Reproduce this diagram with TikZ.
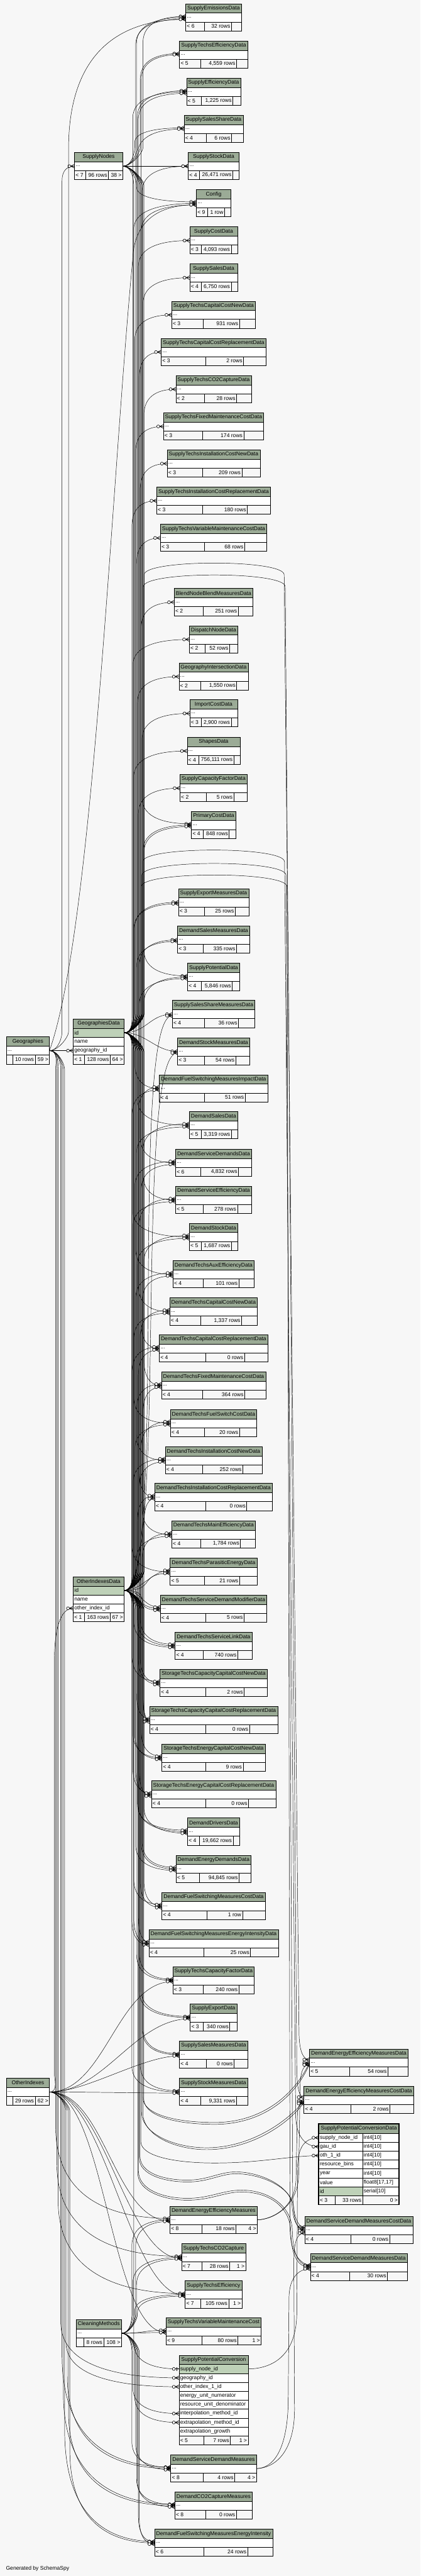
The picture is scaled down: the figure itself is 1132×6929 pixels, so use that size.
\documentclass[tikz,border=0pt]{standalone}
\usepackage{fontspec}
\setmainfont{Liberation Sans}
\usetikzlibrary{calc}

\definecolor{headcol}{HTML}{9BAB96}
\definecolor{pkcol}{HTML}{BED1B8}
\definecolor{footcol}{HTML}{F7F7F7}
\definecolor{bgcol}{HTML}{F7F7F7}

\newdimen\tbT
\newdimen\tbL
\newdimen\tbM
\newdimen\tbR
\newcommand\tbfont{\fontsize{14.5}{16}\selectfont}
% width of a text in the table font, measured outside the picture state
\newcommand{\tbwidth}[2]{\settowidth#1{\pgfinterruptpicture\tbfont #2\endpgfinterruptpicture}}

% natural widths of the three footer cells
\newcommand{\tbnat}[3]{%
  \tbwidth\tbL{#1}\tbwidth\tbM{#2}\tbwidth\tbR{#3}%
  \pgfmathsetmacro\tbnl{ifthenelse(\the\tbL>0,\the\tbL+10,17)}%
  \pgfmathsetmacro\tbnm{\the\tbM+10}%
  \pgfmathsetmacro\tbnr{ifthenelse(\the\tbR>0,\the\tbR+10,17)}}

% footer row: parents | rows | children
\newcommand{\tbfoot}[4]{%
  \pgfmathsetmacro\tbE{max(\tbxr-\tbxl-\tbnl-\tbnm-\tbnr,0)}%
  \pgfmathsetmacro\tbxa{\tbxl+\tbnl+0.49*\tbE}%
  \pgfmathsetmacro\tbxb{\tbxa+\tbnm+0.27*\tbE}%
  \draw[tbline, fill=footcol] (\tbxl,#1) rectangle (\tbxr,#1+24);
  \draw[tbline] (\tbxa,#1) -- (\tbxa,#1+24) (\tbxb,#1) -- (\tbxb,#1+24);
  \node[tbtext, anchor=west] at (\tbxl+2,#1+12) {#2};
  \node[tbtext, anchor=east] at (\tbxb-2,#1+12) {#3};
  \node[tbtext, anchor=east] at (\tbxr-2,#1+12) {#4};}

% collapsed table: centre x, top, name, parents, rows, children
\newcommand{\tbl}[6]{%
  \tbnat{#4}{#5}{#6}\tbwidth\tbT{#3}%
  \pgfmathsetmacro\tbW{max(\the\tbT+9,\tbnl+\tbnm+\tbnr)}%
  \pgfmathsetmacro\tbxl{#1-\tbW/2}\pgfmathsetmacro\tbxr{#1+\tbW/2}%
  \draw[tbline, fill=headcol] (\tbxl,#2) rectangle (\tbxr,#2+25);
  \node[tbtext] at (#1,#2+12.5) {#3};
  \draw[tbline, fill=white] (\tbxl,#2+25) rectangle (\tbxr,#2+49);
  \node[rowbox, minimum width=\tbW] (#3) at (\tbxl,#2+25) {};
  \node[tbtext, anchor=west] at (\tbxl+2,#2+37) {...};
  \tbfoot{#2+49}{#4}{#5}{#6}}

% table with its columns: centre x, top, width, name, number of rows, rows, parents, rows, children
\newcommand{\tblx}[9]{%
  \tbnat{#7}{#8}{#9}%
  \pgfmathsetmacro\tbxl{#1-#3/2}\pgfmathsetmacro\tbxr{#1+#3/2}%
  \draw[tbline, fill=headcol] (\tbxl,#2) rectangle (\tbxr,#2+25);
  \node[tbtext] at (#1,#2+12.5) {#4};
  \foreach \key/\txt/\fc [count=\rk] in {#6} {%
    \pgfmathsetmacro\tby{#2+1+24*\rk}%
    \draw[tbline, fill=\fc] (\tbxl,\tby) rectangle (\tbxr,\tby+24);
    \node[rowbox, minimum width=#3] (#4-\key) at (\tbxl,\tby) {};
    \node[tbtext, anchor=west] at (\tbxl+2,\tby+12) {\txt};
  }
  \tbfoot{#2+25+24*#5}{#7}{#8}{#9}}

% zero-or-many end (crow's foot with ring) at fkB
\newcommand{\fkmark}{%
  \draw[fkfoot] ($(fkB)+(-10,0)$) -- ($(fkB)+(0,-5)$) ($(fkB)+(-10,0)$) -- ($(fkB)+(0,5)$) ($(fkB)+(-10,0)$) -- (fkB);
  \draw[fkfoot, fill=white] ($(fkB)+(-14,0)$) circle[radius=4pt];}
% zero-or-one end (ring and bar)
\newcommand{\fkmarkone}{%
  \draw[fkfoot] ($(fkB)+(-6,-5)$) -- ($(fkB)+(-6,5)$) ($(fkB)+(-10,0)$) -- (fkB);
  \draw[fkfoot, fill=white] ($(fkB)+(-14,0)$) circle[radius=4pt];}
\newcommand{\fkend}{\fkmark}

% connector through a vertical trunk: direction (1 down, -1 up), parent, child, trunk, offset, lead
\newcommand{\fkedge}[6]{%
  \coordinate (fkB) at ($(#3)+(0,#5)$);
  \pgfmathsetmacro\fkc{-12*(#1)}\pgfmathsetmacro\fkd{50*(#1)}%
  \pgfmathsetmacro\fke{-(#6)*(#1)}\pgfmathsetmacro\fkf{0.8*(#6)*(#1)}%
  \draw[fk] (#2) .. controls +(25,0) and +(0,\fkc) .. ($(#2 -| #4)+(0,\fkd)$)
    -- ($(fkB -| #4)+(0,\fke)$) .. controls +(0,\fkf) and ($(fkB -| #4)!0.5!(fkB)$) .. (fkB);
  \fkend}
\newcommand{\fkup}[4]{\fkedge{-1}{#1}{#2}{#3}{#4}{70}}
\newcommand{\fkdn}[4]{\fkedge{1}{#1}{#2}{#3}{#4}{70}}
% short S-shaped connector
\newcommand{\fkS}[4]{%
  \coordinate (fkB) at ($(#2)+(0,#3)$);
  \draw[fk] (#1) .. controls +(#4,0) and +(-#4,0) .. (fkB);
  \fkend}

\begin{document}
\begin{tikzpicture}[
  x=1pt, y=-1pt,
  tbline/.style={draw=black, line width=1pt},
  tbtext/.style={font=\tbfont, inner sep=1pt},
  rowbox/.style={inner sep=0, outer sep=0, minimum height=24, anchor=north west},
  fk/.style={draw=black, line width=0.8pt},
  fkfoot/.style={draw=black, line width=1.1pt},
]
\useasboundingbox (0,0) rectangle (1132,6929);
\fill[bgcol] (0,0) rectangle (1132,6929);

% --- middle column ---
\foreach \ty/\tn/\tp/\tc/\tk in {
  10/SupplyEmissionsData/< 6/{32 rows}/{},
  110/SupplyTechsEfficiencyData/< 5/{4,559 rows}/{},
  210/SupplyEfficiencyData/< 5/{1,225 rows}/{},
  310/SupplySalesShareData/< 4/{6 rows}/{},
  410/SupplyStockData/< 4/{26,471 rows}/{},
  510/Config/< 9/{1 row}/{},
  610/SupplyCostData/< 3/{4,093 rows}/{},
  710/SupplySalesData/< 4/{6,750 rows}/{},
  810/SupplyTechsCapitalCostNewData/< 3/{931 rows}/{},
  910/SupplyTechsCapitalCostReplacementData/< 3/{2 rows}/{},
  1010/SupplyTechsCO2CaptureData/< 2/{28 rows}/{},
  1110/SupplyTechsFixedMaintenanceCostData/< 3/{174 rows}/{},
  1210/SupplyTechsInstallationCostNewData/< 3/{209 rows}/{},
  1310/SupplyTechsInstallationCostReplacementData/< 3/{180 rows}/{},
  1410/SupplyTechsVariableMaintenanceCostData/< 3/{68 rows}/{},
  1583/BlendNodeBlendMeasuresData/< 2/{251 rows}/{},
  1683/DispatchNodeData/< 2/{52 rows}/{},
  1783/GeographyIntersectionData/< 2/{1,550 rows}/{},
  1882/ImportCostData/< 3/{2,900 rows}/{},
  1983/ShapesData/< 4/{756,111 rows}/{},
  2083/SupplyCapacityFactorData/< 2/{5 rows}/{},
  2182/PrimaryCostData/< 4/{848 rows}/{},
  2390/SupplyExportMeasuresData/< 3/{25 rows}/{},
  2491/DemandSalesMeasuresData/< 3/{335 rows}/{},
  2591/SupplyPotentialData/< 4/{5,846 rows}/{},
  2691/SupplySalesShareMeasuresData/< 4/{36 rows}/{},
  2791/DemandStockMeasuresData/< 3/{54 rows}/{},
  2891/DemandFuelSwitchingMeasuresImpactData/< 4/{51 rows}/{},
  2990/DemandSalesData/< 5/{3,319 rows}/{},
  3091/DemandServiceDemandsData/< 6/{4,832 rows}/{},
  3191/DemandServiceEfficiencyData/< 5/{278 rows}/{},
  3290/DemandStockData/< 5/{1,687 rows}/{},
  3391/DemandTechsAuxEfficiencyData/< 4/{101 rows}/{},
  3491/DemandTechsCapitalCostNewData/< 4/{1,337 rows}/{},
  3590/DemandTechsCapitalCostReplacementData/< 4/{0 rows}/{},
  3690/DemandTechsFixedMaintenanceCostData/< 4/{364 rows}/{},
  3791/DemandTechsFuelSwitchCostData/< 4/{20 rows}/{},
  3891/DemandTechsInstallationCostNewData/< 4/{252 rows}/{},
  3990/DemandTechsInstallationCostReplacementData/< 4/{0 rows}/{},
  4091/DemandTechsMainEfficiencyData/< 4/{1,784 rows}/{},
  4191/DemandTechsParasiticEnergyData/< 5/{21 rows}/{},
  4290/DemandTechsServiceDemandModifierData/< 4/{5 rows}/{},
  4390/DemandTechsServiceLinkData/< 4/{740 rows}/{},
  4490/StorageTechsCapacityCapitalCostNewData/< 4/{2 rows}/{},
  4590/StorageTechsCapacityCapitalCostReplacementData/< 4/{0 rows}/{},
  4691/StorageTechsEnergyCapitalCostNewData/< 4/{9 rows}/{},
  4790/StorageTechsEnergyCapitalCostReplacementData/< 4/{0 rows}/{},
  4890/DemandDriversData/< 4/{19,662 rows}/{},
  4990/DemandEnergyDemandsData/< 5/{94,845 rows}/{},
  5090/DemandFuelSwitchingMeasuresCostData/< 4/{1 row}/{},
  5190/DemandFuelSwitchingMeasuresEnergyIntensityData/< 4/{25 rows}/{},
  5290/SupplyTechsCapacityFactorData/< 3/{240 rows}/{},
  5390/SupplyExportData/< 3/{340 rows}/{},
  5490/SupplySalesMeasuresData/< 4/{0 rows}/{},
  5590/SupplyStockMeasuresData/< 4/{9,331 rows}/{},
  5934/DemandEnergyEfficiencyMeasures/< 8/{18 rows}/{4 >},
  6035/SupplyTechsCO2Capture/< 7/{28 rows}/{1 >},
  6135/SupplyTechsEfficiency/< 7/{105 rows}/{1 >},
  6234/SupplyTechsVariableMaintenanceCost/< 9/{80 rows}/{1 >},
  6603/DemandServiceDemandMeasures/< 8/{4 rows}/{4 >},
  6703/DemandCO2CaptureMeasures/< 8/{0 rows}/{},
  6803/DemandFuelSwitchingMeasuresEnergyIntensity/< 6/{24 rows}/{}}
  {\tbl{575}{\ty}{\tn}{\tp}{\tc}{\tk}}

\tblx{575}{6335}{186}{SupplyPotentialConversion}{8}{supplynode/supply\_node\_id/pkcol,
  geography/geography\_id/white, otherindex/other\_index\_1\_id/white,
  numerator/energy\_unit\_numerator/white, denominator/resource\_unit\_denominator/white,
  interpolation/interpolation\_method\_id/white, extrapolation/extrapolation\_method\_id/white,
  growth/extrapolation\_growth/white}{< 5}{7 rows}{1 >}

% --- parent tables ---
\tbl{265.5}{410}{SupplyNodes}{< 7}{96 rows}{38 >}
\tblx{265.5}{2741}{137}{GeographiesData}{3}{id/id/pkcol, name/name/white,
  geography/geography\_id/white}{< 1}{128 rows}{64 >}
\tblx{265.5}{4241}{137}{OtherIndexesData}{3}{id/id/pkcol, name/name/white,
  otherindex/other\_index\_id/white}{< 1}{163 rows}{67 >}
\tbl{266}{6239}{CleaningMethods}{}{8 rows}{108 >}
\tbl{75}{2789}{Geographies}{}{10 rows}{59 >}
\tbl{75}{5590}{OtherIndexes}{}{29 rows}{62 >}

% --- right column ---
\tbl{966}{5511}{DemandEnergyEfficiencyMeasuresData}{< 5}{54 rows}{}
\tbl{966}{5612}{DemandEnergyEfficiencyMeasuresCostData}{< 4}{2 rows}{}
\tbl{966}{5962}{DemandServiceDemandMeasuresCostData}{< 4}{0 rows}{}
\tbl{966}{6061}{DemandServiceDemandMeasuresData}{< 4}{30 rows}{}

% SupplyPotentialConversionData (the table in focus)
\draw[tbline, fill=headcol] (858,5713) rectangle (1074,5738);
\node[tbtext] at (966,5725.5) {SupplyPotentialConversionData};
\foreach \key/\txt/\typ/\fc [count=\rk] in {supplynode/supply\_node\_id/int4[10]/white,
  gau/gau\_id/int4[10]/white, oth/oth\_1\_id/int4[10]/white, bins/resource\_bins/int4[10]/white,
  year/year/int4[10]/white, value/value/{float8[17,17]}/white, id/id/serial[10]/pkcol} {
  \pgfmathsetmacro\tby{5714+24*\rk}
  \draw[tbline, fill=\fc] (858,\tby) rectangle (976,\tby+24);
  \draw[tbline, fill=white] (976,\tby) rectangle (1074,\tby+24);
  \node[rowbox, minimum width=118] (SupplyPotentialConversionData-\key) at (858,\tby) {};
  \node[tbtext, anchor=west] at (860,\tby+12) {\txt};
  \node[tbtext, anchor=west] at (978,\tby+12) {\typ};
}
\draw[tbline, fill=footcol] (858,5906) rectangle (1074,5930);
\draw[tbline] (902,5906) -- (902,5930) (976,5906) -- (976,5930);
\node[tbtext, anchor=west] at (860,5918) {< 3};
\node[tbtext, anchor=east] at (974,5918) {33 rows};
\node[tbtext, anchor=east] at (1072,5918) {0 >};
\draw[line width=2.5pt] (858,5713) rectangle (1074,5930);

\node[tbtext, anchor=west] (credit) at (15,6909) {Generated by SchemaSpy};

% --- trunks the connectors run along ---
\foreach \i in {0,...,13} {
  \coordinate (t\i) at ({355+2.5*\i},0);
  \coordinate (l\i) at ({146+3.5*\i},0);
}

% SupplyNodes
\fkup{SupplyNodes.east}{SupplyEmissionsData.west}{t12}{-3}
\fkup{SupplyNodes.east}{SupplyTechsEfficiencyData.west}{t9}{-3}
\fkup{SupplyNodes.east}{SupplyEfficiencyData.west}{t6}{-3}
\fkedge{-1}{SupplyNodes.east}{SupplySalesShareData.west}{t3}{-3}{40}
\fkS{SupplyNodes.east}{SupplyStockData.west}{0}{60}
\fkedge{1}{SupplyNodes.east}{Config.west}{t5}{-4}{40}
\foreach \c/\t in {PrimaryCostData/11, SupplyPotentialData/13, SupplyTechsCapacityFactorData/8,
  SupplyExportData/10, SupplySalesMeasuresData/12, SupplyStockMeasuresData/9}
  {\fkdn{SupplyNodes.east}{\c.west}{t\t}{-3}}
{\let\fkend\fkmarkone \fkdn{SupplyNodes.east}{SupplyPotentialConversion-supplynode.west}{t2}{0}}

% GeographiesData (gau_id)
\foreach \c [count=\i] in {SupplyEmissionsData, SupplyTechsEfficiencyData, SupplyEfficiencyData,
  SupplySalesShareData, SupplyStockData, Config, SupplyCostData, SupplySalesData,
  SupplyTechsCapitalCostNewData, SupplyTechsCapitalCostReplacementData, SupplyTechsCO2CaptureData,
  SupplyTechsFixedMaintenanceCostData, SupplyTechsInstallationCostNewData,
  SupplyTechsInstallationCostReplacementData, SupplyTechsVariableMaintenanceCostData,
  BlendNodeBlendMeasuresData, DispatchNodeData, GeographyIntersectionData, ImportCostData,
  ShapesData, SupplyCapacityFactorData, PrimaryCostData, SupplyExportMeasuresData,
  DemandSalesMeasuresData, SupplyPotentialData}
  {\pgfmathtruncatemacro\t{mod(\i*5,14)}\fkup{GeographiesData-id.east}{\c.west}{t\t}{0}}
\fkS{GeographiesData-id.east}{SupplySalesShareMeasuresData.west}{0}{60}
\fkS{GeographiesData-id.east}{DemandStockMeasuresData.west}{0}{60}
\foreach \c [count=\i] in {DemandFuelSwitchingMeasuresImpactData, DemandSalesData,
  DemandServiceDemandsData, DemandServiceEfficiencyData, DemandStockData,
  DemandTechsAuxEfficiencyData, DemandTechsCapitalCostNewData, DemandTechsCapitalCostReplacementData,
  DemandTechsFixedMaintenanceCostData, DemandTechsFuelSwitchCostData,
  DemandTechsInstallationCostNewData, DemandTechsInstallationCostReplacementData,
  DemandTechsMainEfficiencyData, DemandTechsParasiticEnergyData, DemandTechsServiceDemandModifierData,
  DemandTechsServiceLinkData, StorageTechsCapacityCapitalCostNewData,
  StorageTechsCapacityCapitalCostReplacementData, StorageTechsEnergyCapitalCostNewData,
  StorageTechsEnergyCapitalCostReplacementData, DemandDriversData, DemandEnergyDemandsData,
  DemandFuelSwitchingMeasuresCostData, DemandFuelSwitchingMeasuresEnergyIntensityData,
  SupplyTechsCapacityFactorData, SupplyExportData, SupplySalesMeasuresData, SupplyStockMeasuresData}
  {\pgfmathtruncatemacro\t{mod(\i*3,14)}\fkdn{GeographiesData-id.east}{\c.west}{t\t}{0}}

% OtherIndexesData (oth_1_id, oth_2_id)
\foreach \c [count=\i] in {SupplyEmissionsData, SupplyEfficiencyData, Config, PrimaryCostData,
  SupplyExportMeasuresData, DemandSalesMeasuresData, SupplyPotentialData}
  {\pgfmathtruncatemacro\t{mod(\i*3+1,14)}\fkup{OtherIndexesData-id.east}{\c.west}{t\t}{4}}
\fkS{OtherIndexesData-id.east}{SupplySalesShareMeasuresData.west}{4}{120}
\fkS{OtherIndexesData-id.east}{DemandStockMeasuresData.west}{4}{120}
\foreach \c [count=\i] in {DemandFuelSwitchingMeasuresImpactData, DemandSalesData,
  DemandServiceDemandsData, DemandServiceEfficiencyData, DemandStockData,
  DemandTechsAuxEfficiencyData, DemandTechsCapitalCostNewData, DemandTechsCapitalCostReplacementData,
  DemandTechsFixedMaintenanceCostData, DemandTechsFuelSwitchCostData,
  DemandTechsInstallationCostNewData, DemandTechsInstallationCostReplacementData,
  DemandTechsMainEfficiencyData}
  {\pgfmathtruncatemacro\t{mod(\i*5+2,14)}\pgfmathtruncatemacro\s{mod(\i*5+9,14)}%
   \fkup{OtherIndexesData-id.east}{\c.west}{t\t}{-4}\fkup{OtherIndexesData-id.east}{\c.west}{t\s}{4}}
\foreach \c in {DemandTechsParasiticEnergyData, DemandTechsServiceDemandModifierData}
  {\fkS{OtherIndexesData-id.east}{\c.west}{-4}{50}\fkS{OtherIndexesData-id.east}{\c.west}{4}{90}}
\foreach \c [count=\i] in {DemandTechsServiceLinkData, StorageTechsCapacityCapitalCostNewData,
  StorageTechsCapacityCapitalCostReplacementData, StorageTechsEnergyCapitalCostNewData,
  StorageTechsEnergyCapitalCostReplacementData, DemandDriversData, DemandEnergyDemandsData,
  DemandFuelSwitchingMeasuresCostData, DemandFuelSwitchingMeasuresEnergyIntensityData}
  {\pgfmathtruncatemacro\t{mod(\i*5+4,14)}\pgfmathtruncatemacro\s{mod(\i*5+11,14)}%
   \fkdn{OtherIndexesData-id.east}{\c.west}{t\t}{-4}\fkdn{OtherIndexesData-id.east}{\c.west}{t\s}{4}}

% Geographies (geography_id)
\fkS{Geographies.east}{GeographiesData-geography.west}{0}{25}
\fkedge{-1}{Geographies.east}{SupplyNodes.west}{l6}{0}{40}
\fkedge{-1}{Geographies.east}{SupplyEmissionsData.west}{l11}{5}{350}
\coordinate (fkB) at ($(Config.west)+(0,4)$);
\draw[fk] (Geographies.east) .. controls (250,2500) and (300,1300) .. (357,700)
  .. controls (360,600) and (420,550) .. (fkB);
\fkmark
\foreach \c/\l/\o/\d in {DemandEnergyEfficiencyMeasures/1/-4/250, SupplyTechsCO2Capture/2/-3/250,
  SupplyTechsEfficiency/3/-3/250, DemandServiceDemandMeasures/6/-4/300,
  DemandCO2CaptureMeasures/7/-4/300, DemandFuelSwitchingMeasuresEnergyIntensity/8/-4/300}
  {\fkedge{1}{Geographies.east}{\c.west}{l\l}{\o}{\d}}
\fkedge{1}{Geographies.east}{SupplyPotentialConversion-geography.west}{l5}{0}{150}

% OtherIndexes (other_index_id)
\fkedge{-1}{OtherIndexes.east}{OtherIndexesData-otherindex.west}{l0}{0}{150}
\foreach \c/\h in {SupplySalesMeasuresData/100, SupplyStockMeasuresData/100,
  SupplyTechsCapacityFactorData/150, SupplyExportData/150, DemandEnergyEfficiencyMeasures/150,
  SupplyTechsCO2Capture/150, SupplyTechsEfficiency/150, SupplyTechsVariableMaintenanceCost/150}
  {\fkS{OtherIndexes.east}{\c.west}{3}{\h}}
\fkedge{1}{OtherIndexes.east}{SupplyPotentialConversion-otherindex.west}{l9}{0}{120}
\foreach \c/\l in {DemandServiceDemandMeasures/10, DemandCO2CaptureMeasures/11,
  DemandFuelSwitchingMeasuresEnergyIntensity/12}
  {\fkedge{1}{OtherIndexes.east}{\c.west}{l\l}{0}{250}}

% CleaningMethods (interpolation / extrapolation)
\fkS{CleaningMethods.east}{SupplyTechsVariableMaintenanceCost.west}{-3}{60}
\fkS{CleaningMethods.east}{SupplyTechsVariableMaintenanceCost.west}{3}{90}
\foreach \c/\t/\s in {DemandEnergyEfficiencyMeasures/0/4, SupplyTechsCO2Capture/1/5}
  {\fkup{CleaningMethods.east}{\c.west}{t\t}{0}\fkup{CleaningMethods.east}{\c.west}{t\s}{4}}
\fkedge{-1}{CleaningMethods.east}{SupplyTechsEfficiency.west}{t3}{0}{45}
\fkedge{-1}{CleaningMethods.east}{SupplyTechsEfficiency.west}{t6}{4}{45}
\fkdn{CleaningMethods.east}{SupplyPotentialConversion-interpolation.west}{t1}{0}
\fkdn{CleaningMethods.east}{SupplyPotentialConversion-extrapolation.west}{t3}{0}
\foreach \c/\t/\s in {DemandServiceDemandMeasures/0/4, DemandCO2CaptureMeasures/5/6,
  DemandFuelSwitchingMeasuresEnergyIntensity/7/8}
  {\fkdn{CleaningMethods.east}{\c.west}{t\t}{-3}\fkdn{CleaningMethods.east}{\c.west}{t\s}{3}}

% GeographiesData over the top to the right-hand tables
\coordinate (fkB) at ($(DemandEnergyEfficiencyMeasuresData.west)+(0,-8)$);
\draw[fk] (GeographiesData-id.east) .. controls +(25,0) and +(0,12) .. (388,2728) -- (388,1546)
  .. controls (388,1504) and (765,1504) .. (765,1546) -- (805,5470) .. controls (806,5515) and (815,5540) .. (fkB);
\fkmark
\coordinate (fkB) at ($(DemandEnergyEfficiencyMeasuresCostData.west)+(0,-8)$);
\draw[fk] (GeographiesData-id.east) .. controls +(25,0) and +(0,12) .. (386,2728) -- (386,1578)
  .. controls (386,1536) and (768,1536) .. (768,1578) -- (799,5570) .. controls (800,5615) and (805,5641) .. (fkB);
\fkmark
\coordinate (fkB) at (SupplyPotentialConversionData-gau.west);
\draw[fk] (GeographiesData-id.east) .. controls +(25,0) and +(0,12) .. (384,2728) -- (384,2318)
  .. controls (384,2276) and (766,2276) .. (766,2318) -- (796,5690) .. controls (797,5745) and (820,5774) .. (fkB);
\fkmark
\coordinate (fkB) at ($(DemandServiceDemandMeasuresCostData.west)+(0,-8)$);
\draw[fk] (GeographiesData-id.east) .. controls +(25,0) and +(0,12) .. (382,2728) -- (382,2354)
  .. controls (382,2312) and (770,2312) .. (770,2354) -- (788,5900) .. controls (789,5960) and (800,5990) .. (fkB);
\fkmark
\coordinate (fkB) at ($(DemandServiceDemandMeasuresData.west)+(0,-5)$);
\draw[fk] (GeographiesData-id.east) .. controls +(25,0) and +(0,12) .. (380,2728) -- (380,2385)
  .. controls (380,2343) and (773,2343) .. (773,2385) -- (781,6000) .. controls (782,6060) and (810,6092) .. (fkB);
\fkmark

% OtherIndexesData dipping under into the right-hand tables
\coordinate (fkB) at (DemandEnergyEfficiencyMeasuresData.west);
\draw[fk] (OtherIndexesData-id.east) .. controls +(25,0) and +(0,-12) .. (384,4327) -- (384,5640)
  .. controls (384,5690) and (480,5709) .. (578,5709) .. controls (700,5709) and (790,5640) .. (fkB);
\fkmark
\coordinate (fkB) at ($(DemandEnergyEfficiencyMeasuresData.west)+(0,4)$);
\draw[fk] (OtherIndexesData-id.east) .. controls +(25,0) and +(0,-12) .. (387,4327) -- (387,5645)
  .. controls (387,5695) and (483,5714) .. (578,5714) .. controls (703,5714) and (793,5645) .. (fkB);
\fkmark
\coordinate (fkB) at ($(DemandEnergyEfficiencyMeasuresCostData.west)+(0,2)$);
\draw[fk] (OtherIndexesData-id.east) .. controls +(25,0) and +(0,-12) .. (381,4327) -- (381,5680)
  .. controls (381,5740) and (470,5777) .. (556,5777) .. controls (680,5777) and (780,5700) .. (fkB);
\fkmark
\coordinate (fkB) at ($(DemandEnergyEfficiencyMeasuresCostData.west)+(0,6)$);
\draw[fk] (OtherIndexesData-id.east) .. controls +(25,0) and +(0,-12) .. (385,4327) -- (385,5685)
  .. controls (385,5745) and (474,5782) .. (556,5782) .. controls (684,5782) and (784,5705) .. (fkB);
\fkmark
\coordinate (fkB) at (SupplyPotentialConversionData-oth.west);
\draw[fk] (OtherIndexesData-id.east) .. controls +(25,0) and +(0,-12) .. (379,4327) -- (379,5760)
  .. controls (379,5800) and (470,5818) .. (578,5818) .. controls (700,5818) and (780,5799) .. (fkB);
\fkmark
\coordinate (fkB) at ($(DemandServiceDemandMeasuresCostData.west)+(0,-3)$);
\draw[fk] (OtherIndexesData-id.east) .. controls +(25,0) and +(0,-12) .. (377,4327) -- (377,5800)
  .. controls (377,5845) and (440,5864) .. (505,5864) .. controls (560,5864) and (590,5842) .. (635,5842)
  .. controls (700,5842) and (782,5880) .. (786,5930) .. controls (789,5975) and (800,5995) .. (fkB);
\fkmark
\coordinate (fkB) at ($(DemandServiceDemandMeasuresCostData.west)+(0,1)$);
\draw[fk] (OtherIndexesData-id.east) .. controls +(25,0) and +(0,-12) .. (375,4327) -- (375,5805)
  .. controls (375,5850) and (443,5869) .. (505,5869) .. controls (563,5869) and (593,5847) .. (635,5847)
  .. controls (705,5847) and (786,5885) .. (790,5935) .. controls (792,5980) and (803,5999) .. (fkB);
\fkmark
\coordinate (fkB) at ($(DemandServiceDemandMeasuresData.west)+(0,-3)$);
\draw[fk] (OtherIndexesData-id.east) .. controls +(25,0) and +(0,-12) .. (373,4327) -- (373,5840)
  .. controls (373,5890) and (440,5913) .. (505,5913) .. controls (565,5913) and (600,5891) .. (650,5891)
  .. controls (720,5891) and (785,5930) .. (787,6000) .. controls (789,6080) and (812,6094) .. (fkB);
\fkmark
\coordinate (fkB) at ($(DemandServiceDemandMeasuresData.west)+(0,1)$);
\draw[fk] (OtherIndexesData-id.east) .. controls +(25,0) and +(0,-12) .. (371,4327) -- (371,5845)
  .. controls (371,5895) and (443,5918) .. (505,5918) .. controls (568,5918) and (603,5896) .. (650,5896)
  .. controls (724,5896) and (782,5935) .. (783,6005) .. controls (785,6085) and (812,6098) .. (fkB);
\fkmark

% measures to their data and cost tables
\coordinate (fkB) at ($(DemandEnergyEfficiencyMeasuresData.west)+(0,6)$);
\draw[fk] (DemandEnergyEfficiencyMeasures.east) .. controls (740,5970) and (803,5930) .. (804,5850)
  -- (808,5610) .. controls (809,5575) and (815,5554) .. (fkB);
\fkmark
\coordinate (fkB) at ($(DemandEnergyEfficiencyMeasuresCostData.west)+(0,9)$);
\draw[fk] (DemandEnergyEfficiencyMeasures.east) .. controls (730,5970) and (796,5940) .. (797,5860)
  -- (800,5710) .. controls (801,5675) and (800,5658) .. (fkB);
\fkmark
\coordinate (fkB) at ($(DemandServiceDemandMeasuresCostData.west)+(0,8)$);
\draw[fk] (DemandServiceDemandMeasures.east) .. controls (745,6638) and (793,6590) .. (793,6480)
  -- (791,6090) .. controls (791,6035) and (797,6006) .. (fkB);
\fkmark
\coordinate (fkB) at ($(DemandServiceDemandMeasuresData.west)+(0,5)$);
\draw[fk] (DemandServiceDemandMeasures.east) .. controls (750,6638) and (776,6560) .. (776,6450)
  -- (778,6180) .. controls (779,6125) and (805,6102) .. (fkB);
\fkmark
\coordinate (fkB) at (SupplyPotentialConversionData-supplynode.west);
\draw[fk] (SupplyPotentialConversion-supplynode.east) .. controls (740,6371) and (799,6330) .. (799,6220)
  -- (801,5830) .. controls (802,5775) and (820,5751) .. (fkB);
\fkmark
\end{tikzpicture}
\end{document}
